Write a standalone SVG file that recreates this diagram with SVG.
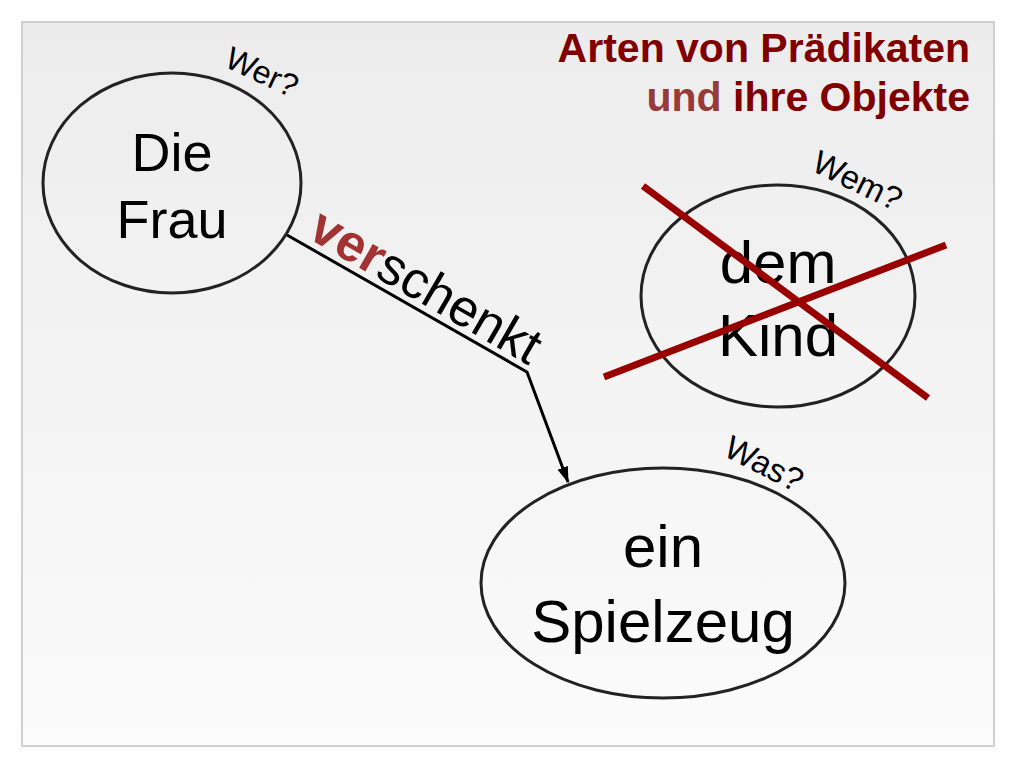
<svg xmlns="http://www.w3.org/2000/svg" width="1024" height="768" viewBox="0 0 1024 768">
  <defs>
    <linearGradient id="bg" x1="0" y1="0" x2="0" y2="1">
      <stop offset="0" stop-color="#ececec"/>
      <stop offset="1" stop-color="#fbfbfb"/>
    </linearGradient>
    <marker id="arrow" viewBox="0 0 12 8" refX="11" refY="4" markerWidth="5.5" markerHeight="3.7" markerUnits="strokeWidth" orient="auto">
      <path d="M0,0 L12,4 L0,8 z" fill="#000"/>
    </marker>
    <style>
      .node { fill: none; stroke: #222; stroke-width: 3; }
      .big { font-family: "Liberation Sans", Arial, sans-serif; font-size: 60px; fill: #000; text-anchor: middle; }
      .q { font-family: "Liberation Sans", Arial, sans-serif; font-size: 32px; fill: #000; }
      .title { font-family: "Liberation Sans", Arial, sans-serif; font-size: 41px; font-weight: bold; fill: #800000; text-anchor: end; }
      .cross { stroke: #990000; stroke-width: 7; stroke-linecap: butt; }
    </style>
  </defs>
  <rect x="0" y="0" width="1024" height="768" fill="#ffffff"/>
  <rect x="22" y="22" width="972" height="724" fill="url(#bg)" stroke="#d0d0d0" stroke-width="2"/>

  <g id="title">
    <text class="title" x="970" y="62">Arten von Prädikaten</text>
    <text class="title" x="970" y="111"><tspan fill="#973a38">und</tspan> ihre Objekte</text>
  </g>

  <g id="connectors">
    <polyline points="287,235 527,372 568,482" fill="none" stroke="#000" stroke-width="3" marker-end="url(#arrow)"/>
    <text transform="translate(306,237) rotate(30)" font-family="Liberation Sans, Arial, sans-serif" font-size="52"><tspan font-weight="bold" fill="#a33333">ver</tspan><tspan fill="#000">schenkt</tspan></text>
  </g>

  <g id="node-frau">
    <ellipse class="node" cx="172" cy="183" rx="129" ry="110"/>
    <text class="big" x="172" y="171" style="font-size:54px">Die</text>
    <text class="big" x="172" y="238" style="font-size:54px">Frau</text>
    <text class="q" transform="translate(223,66) rotate(25)">Wer?</text>
  </g>

  <g id="node-kind">
    <ellipse class="node" cx="778" cy="296" rx="137" ry="111"/>
    <text class="big" x="778" y="283">dem</text>
    <text class="big" x="778" y="356">Kind</text>
    <text class="q" transform="translate(810,170) rotate(26)" style="font-size:33px">Wem?</text>
    <line class="cross" x1="643" y1="186" x2="928" y2="398"/>
    <line class="cross" x1="604" y1="377" x2="946" y2="245"/>
  </g>

  <g id="node-spielzeug">
    <ellipse class="node" cx="663" cy="583" rx="182" ry="115"/>
    <text class="big" x="663" y="567">ein</text>
    <text class="big" x="663" y="642">Spielzeug</text>
    <text class="q" transform="translate(722,455) rotate(27)" style="font-size:33px">Was?</text>
  </g>
</svg>
